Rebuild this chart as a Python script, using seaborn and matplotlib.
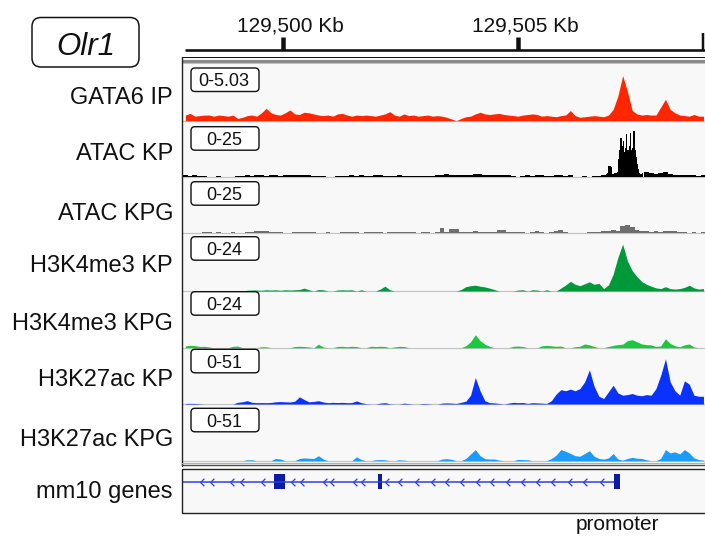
import numpy as np
import pandas as pd
import matplotlib
matplotlib.use("Agg")
import matplotlib.pyplot as plt
import seaborn as sns
from matplotlib.patches import FancyBboxPatch, Rectangle
from matplotlib.path import Path

sns.set_theme(style="white")
plt.rcParams['font.family'] = ['Liberation Sans', 'DejaVu Sans']

# ---------------- data ----------------
VIEW_START, VIEW_END = 129497.854, 129508.967   # kb
BIN_START, BIN_KB = 129497.875, 0.101
PEAK_START, PEAK_KB = 129506.84, 0.0252

track_names = ["GATA6 IP", "ATAC KP", "ATAC KPG", "H3K4me3 KP",
               "H3K4me3 KPG", "H3K27ac KP", "H3K27ac KPG"]
track_ranges = [5.03, 25, 25, 24, 24, 51, 51]
track_range_labels = ["0-5.03", "0-25", "0-25", "0-24", "0-24", "0-51", "0-51"]
track_colors = ["#ff2600", "#000000", "#6e6e6e", "#00993a",
                "#1ec83c", "#0a32ff", "#1a9cff"]
track_styles = ["poly", "bars", "bars", "poly", "poly", "poly", "poly"]

gata6_ip = [0.5, 0.65, 0.4, 0.45, 0.5, 0.5, 0.4, 0.5, 0.45, 0.4,
            0.5, 0.2, 0.3, 0.45, 0.5, 0.4, 0.7, 1.1, 0.7, 0.55,
            0.5, 0.7, 0.95, 0.6, 0.55, 0.75, 0.7, 0.6, 0.5, 0.45,
            0.5, 0.4, 0.6, 0.65, 0.5, 0.4, 0.5, 0.45, 0.5, 0.45,
            0.4, 0.5, 0.6, 0.8, 0.5, 0.4, 0.6, 0.45, 0.5, 0.4,
            0.45, 0.5, 0.4, 0.45, 0.4, 0.3, 0.15, 0.0, 0.2, 0.35,
            0.4, 0.6, 0.75, 0.6, 0.55, 0.6, 0.65, 0.55, 0.5, 0.45,
            0.4, 0.5, 0.55, 0.6, 0.55, 0.4, 0.45, 0.4, 0.35, 0.45,
            0.5, 0.9, 0.45, 0.3, 0.35, 0.4, 0.45, 0.4, 0.35, 0.5,
            1.0, 2.2, 4.0, 2.6, 0.9, 0.6, 0.5, 0.55, 0.5, 0.5,
            1.2, 1.9, 1.0, 0.7, 0.5, 0.45, 0.4, 0.55, 0.4, 0.4]

atac_kp = [0.8, 0.6, 0.8, 0.7, 0.6, 0.3, 0.0, 0.4, 0.0, 0.3,
           0.0, 0.5, 0.7, 0.8, 0.6, 0.8, 0.9, 0.7, 0.8, 0.9,
           0.7, 0.8, 0.9, 1.0, 0.8, 0.9, 0.8, 0.7, 0.6, 0.5,
           0.0, 0.3, 0.5, 0.4, 0.6, 0.8, 0.5, 1.0, 0.7, 0.6,
           0.8, 0.9, 0.7, 0.6, 0.7, 0.9, 0.6, 0.5, 0.7, 0.6,
           0.6, 0.5, 0.6, 0.8, 0.9, 1.5, 1.2, 1.0, 1.1, 0.8,
           1.2, 1.4, 1.3, 1.1, 0.9, 1.2, 1.0, 1.1, 0.9, 0.5,
           0.0, 0.6, 0.8, 0.7, 0.9, 0.8, 0.7, 0.6, 1.0, 0.8,
           0.5, 0.8, 0.0, 0.0, 0.4, 0.0, 0.5, 0.6, 0.8, 1.2,
           3.5, 2.0, 12, 18, 17, 14, 4.0, 2.5, 1.8, 1.5,
           2.0, 2.4, 1.5, 1.2, 1.0, 0.9, 1.0, 0.8, 0.7, 0.8]

atac_kp_peak = [1.2, 1.5, 2.0, 5.0, 5.0, 4.5, 1.5, 1.5, 2.0, 1.8,
                2.5, 8, 12, 17.5, 14, 16, 11, 13, 19, 12,
                14, 19.5, 12, 13, 20.5, 12, 9, 6, 3.5, 2.0, 1.5, 1.8]

atac_kpg = [0.3, 0.0, 0.3, 0.0, 0.4, 0.5, 0.0, 0.4, 0.0, 0.3,
            0.5, 0.0, 0.3, 0.5, 0.6, 1.0, 1.0, 0.9, 0.5, 0.8,
            0.4, 0.0, 0.3, 0.5, 0.8, 0.7, 0.6, 0.5, 0.3, 0.0,
            0.4, 0.3, 0.0, 0.5, 0.4, 0.6, 0.5, 0.0, 0.6, 0.8,
            0.6, 0.5, 0.0, 0.5, 0.6, 0.5, 0.4, 0.5, 0.4, 0.3,
            0.4, 0.5, 0.0, 0.6, 2.2, 0.8, 1.8, 2.0, 0.5, 0.6,
            0.8, 0.9, 0.7, 0.6, 0.8, 0.5, 1.5, 1.4, 0.6, 0.4,
            0.5, 0.8, 0.0, 0.6, 1.2, 0.5, 0.0, 0.6, 0.9, 1.5,
            0.6, 0.0, 0.0, 0.3, 0.0, 0.4, 0.6, 0.5, 0.9, 1.2,
            1.5, 1.2, 3.2, 3.7, 2.8, 1.5, 1.0, 1.2, 0.8, 1.0,
            0.6, 0.9, 1.2, 1.0, 0.8, 0.5, 0.0, 0.4, 0.0, 0.5]

h3k4me3_kp = [0, 0, 0, 0, 0, 0, 0, 0, 0, 0,
              0, 0, 0, 0.3, 0.4, 0.4, 0.3, 0.5, 0.4, 0.5,
              0.3, 0.5, 0.4, 0.5, 0.6, 1.2, 0.5, 0.0, 0.6, 0.5,
              0.0, 0.0, 0.4, 0.5, 0.4, 0.5, 0.0, 0.5, 0.0, 0.0,
              0.0, 0.8, 2.0, 0.5, 0, 0, 0, 0, 0, 0,
              0, 0, 0, 0, 0, 0, 0, 0, 0.6, 1.8,
              2.2, 2.4, 2.0, 1.7, 1.2, 0.6, 0, 0, 0, 0,
              0.4, 0.5, 0.0, 0.5, 0.4, 0.0, 0.5, 0.0, 0.0, 1.2,
              2.5, 4.0, 2.8, 2.2, 3.0, 3.8, 2.8, 3.2, 1.0, 2.5,
              7, 14, 19.5, 12.5, 8.5, 6, 4, 2.8, 2.0, 1.3,
              1.0, 1.8, 1.0, 0.8, 1.0, 1.5, 2.4, 1.3, 0.8, 1.0]

h3k4me3_kpg = [0.8, 1.0, 0.9, 0.5, 0.6, 0.3, 0, 0, 0, 0,
               0.6, 0.7, 0, 0, 0, 0, 0.4, 0.4, 0, 0,
               0, 0, 0, 0.5, 0.6, 0.5, 0.3, 0, 1.5, 0.3,
               0, 0, 0.5, 0.6, 0.4, 0.6, 0.5, 0, 0, 0.6,
               0.5, 0.6, 0.5, 0, 0.3, 0.6, 0.5, 0, 0, 0,
               0, 0, 0, 0, 0, 0, 0, 0, 0, 0.8,
               2.5, 5.5, 3.0, 1.5, 0.6, 0, 0, 0, 0, 0.6,
               0.7, 0.5, 0, 0, 0, 0.8, 1.0, 0.8, 0.6, 0.7,
               0, 0, 0.4, 0.6, 1.6, 1.2, 0.5, 0, 0, 0.5,
               1.0, 1.3, 1.5, 3.0, 3.4, 2.5, 1.6, 1.3, 1.2, 0.5,
               0.8, 3.8, 1.8, 0.8, 0.4, 1.2, 1.6, 0.3, 0, 0]

h3k27ac_kp = [0.5, 0.6, 0.5, 0.3, 0, 0, 0, 0, 0, 0,
              0, 1.5, 2.0, 3.0, 1.5, 1.2, 1.3, 1.2, 1.4, 2.0,
              2.2, 2.0, 1.8, 2.5, 6.5, 4.0, 2.0, 2.3, 3.0, 1.8,
              1.2, 1.5, 1.3, 1.5, 1.2, 1.3, 2.8, 1.2, 0.3, 0,
              0, 0.8, 1.2, 0.3, 0, 0, 0.8, 0.3, 0, 0,
              0.5, 0.3, 0, 0, 0.8, 1.0, 0.8, 0.5, 1.5, 2.5,
              8, 24, 12, 3.0, 1.2, 1.0, 0.5, 0, 0.8, 1.5,
              1.2, 1.4, 0.5, 1.2, 1.0, 0.8, 0.5, 3, 9, 13,
              12, 13.5, 12, 14, 20, 31, 16, 7, 5, 11,
              17, 10, 8, 8.5, 9.5, 8, 7.5, 8.5, 8, 14,
              26, 41, 20, 12, 8, 21, 18, 8, 7, 7]

h3k27ac_kpg = [0, 0, 0, 0, 0, 0, 0, 0, 0, 0,
               0, 0, 0, 0.8, 0.8, 0, 0, 0, 0, 2.0,
               1.5, 0, 0, 0, 2.0, 2.5, 2.2, 2.0, 4.5, 1.5,
               0, 0, 0, 0, 0, 0, 3.5, 1.0, 0, 0,
               0.8, 1.0, 0.8, 0, 0, 0.8, 0.5, 0, 0, 0,
               0, 0, 0, 0, 1.5, 1.8, 1.2, 0, 0, 2.0,
               6, 10, 4.5, 1.8, 1.5, 1.5, 0.5, 0, 0, 0,
               1.2, 1.0, 0.8, 0, 0, 0, 0, 2, 5, 10,
               8.5, 6.5, 4.5, 4.0, 6.5, 9, 4, 2.0, 1.5, 2.5,
               6.5, 1.5, 0.5, 2.0, 3.0, 2.2, 2.0, 0.8, 0, 0,
               2, 10, 7, 8, 6, 10, 7, 2.5, 1.0, 0.5]

track_values = [gata6_ip, atac_kp, atac_kpg, h3k4me3_kp,
                h3k4me3_kpg, h3k27ac_kp, h3k27ac_kpg]

ruler_ticks_kb = [129500, 129505]

# gene model (Olr1, minus strand), kb
gene_line_start = VIEW_START
exon_starts = [129499.803, 129502.012, 129507.03]
exon_ends = [129500.036, 129502.110, 129507.17]
chevron_kb = [129498.273, 129498.485, 129498.910, 129499.123, 129499.569,
              129500.219, 129500.398, 129500.893, 129501.035, 129501.530,
              129501.707, 129502.204, 129502.487, 129502.841, 129503.194,
              129503.479, 129503.797, 129504.150, 129504.435, 129504.788,
              129505.106, 129505.425, 129505.744, 129506.099, 129506.418,
              129506.773]

# ---------------- layout (pixels) ----------------
W, H = 705, 536
fig = plt.figure(figsize=(W / 100, H / 100), dpi=100)
fig.patch.set_facecolor("white")


def px_axes(x0, y0, x1, y1, z=1):
    ax = fig.add_axes([x0 / W, 1 - y1 / H, (x1 - x0) / W, (y1 - y0) / H])
    ax.set_zorder(z)
    return ax


PX = 0.72  # points per pixel
PANEL_L, PANEL_R = 182, 705
track_tops = [64, 120.7, 177.3, 233.3, 291, 347.7, 404]
track_bots = [120.7, 177.3, 233.3, 291, 347.7, 404, 460.7]
box_tops = [68, 126.7, 181.7, 236.7, 291.7, 349.3, 408.3]
label_baselines = [104.5, 160.5, 219.5, 272.5, 330.5, 386.5, 445.5]

# background overlay
bg = px_axes(0, 0, W, H, z=0)
bg.set_xlim(0, W); bg.set_ylim(H, 0); bg.set_axis_off()
bg.add_patch(Rectangle((PANEL_L, 57), PANEL_R - PANEL_L, 409, fc="#f8f8f8", ec="none"))
bg.add_patch(Rectangle((PANEL_L, 469), PANEL_R - PANEL_L, 44, fc="#f8f8f8", ec="none"))

edges = BIN_START + BIN_KB * np.arange(len(gata6_ip) + 1)
centers = (edges[:-1] + edges[1:]) / 2
peak_edges = PEAK_START + PEAK_KB * np.arange(len(atac_kp_peak) + 1)
peak_centers = (peak_edges[:-1] + peak_edges[1:]) / 2
edge_list = [float(e) for e in edges]
peak_edge_list = [float(e) for e in peak_edges]

for i, vals in enumerate(track_values):
    ax = px_axes(PANEL_L, track_tops[i], PANEL_R, track_bots[i], z=1)
    ax.set_facecolor("none")
    df = pd.DataFrame({"pos": centers, "signal": np.asarray(vals, dtype=float)})
    if i == 1:
        keep = (df["pos"] < peak_edges[0]) | (df["pos"] > peak_edges[-1])
        sns.histplot(data=df[keep], x="pos", weights="signal", bins=edge_list,
                     element="bars", fill=True, color=track_colors[i], alpha=1,
                     linewidth=0, ax=ax)
        dfp = pd.DataFrame({"pos": peak_centers, "signal": atac_kp_peak})
        sns.histplot(data=dfp, x="pos", weights="signal", bins=peak_edge_list,
                     element="bars", fill=True, color=track_colors[i], alpha=1,
                     linewidth=0, ax=ax)
    else:
        sns.histplot(data=df, x="pos", weights="signal", bins=edge_list,
                     element=track_styles[i], fill=True, color=track_colors[i],
                     alpha=1, linewidth=0, ax=ax)
    ax.set_xlim(VIEW_START, VIEW_END)
    ax.set_ylim(0, track_ranges[i])
    ax.axhline(0, color="#c4c4c4", lw=1.2 * PX, clip_on=False, zorder=0.5)
    ax.set_axis_off()

# foreground overlay: frames, boxes, labels
fg = px_axes(0, 0, W, H, z=5)
fg.set_xlim(0, W); fg.set_ylim(H, 0); fg.set_axis_off()

fg.plot([PANEL_L, PANEL_R], [57.3, 57.3], color="#111111", lw=1.0 * PX)
fg.add_patch(Rectangle((PANEL_L, 60), PANEL_R - PANEL_L, 3, fc="#8a8a8a", ec="none"))
fg.add_patch(Rectangle((PANEL_L, 63), PANEL_R - PANEL_L, 1.3, fc="#c0c0c0", ec="none"))
fg.plot([PANEL_L, PANEL_L], [57, 466], color="#222222", lw=1.4 * PX)
fg.plot([PANEL_L, PANEL_R], [462.6, 462.6], color="#b0b0b0", lw=1.0 * PX)
fg.plot([PANEL_L, PANEL_R], [465.3, 465.3], color="#4a4a4a", lw=1.4 * PX)
fg.add_patch(Rectangle((PANEL_L, 469), PANEL_R - PANEL_L + 5, 44, fc="none",
                       ec="#222222", lw=1.4 * PX))

for i in range(len(track_names)):
    fg.add_patch(FancyBboxPatch((191, box_tops[i]), 68, 23.5,
                                boxstyle="round,pad=0,rounding_size=4",
                                fc="white", ec="#111111", lw=1.4 * PX))
    fg.text(224, box_tops[i] + 18.5, track_range_labels[i], fontsize=13,
            ha="center", va="baseline", color="#111111")
    fg.text(173, label_baselines[i], track_names[i], fontsize=17,
            ha="right", va="baseline", color="#111111")
fg.text(173, 498, "mm10 genes", fontsize=17, ha="right", va="baseline",
        color="#111111")

# Olr1 title box
fg.add_patch(FancyBboxPatch((32, 17.5), 107, 49.5,
                            boxstyle="round,pad=0,rounding_size=9",
                            fc="white", ec="#111111", lw=1.5 * PX))
fg.text(85.5, 55, "Olr1", fontsize=22.5, style="italic", ha="center",
        va="baseline", color="#111111")

# ruler
ar = px_axes(PANEL_L, 28, PANEL_R, 53, z=5)
ar.set_xlim(VIEW_START, VIEW_END); ar.set_ylim(53, 28); ar.set_axis_off()
ar.plot([VIEW_START + 0.06, VIEW_END], [50, 50], color="#111111", lw=2.6 * PX,
        solid_capstyle="butt")
ar.vlines(ruler_ticks_kb, 37, 50, color="#111111", lw=4.5 * PX)
ar.vlines([VIEW_END - 0.04], 33, 50, color="#111111", lw=2.5 * PX)
for t in ruler_ticks_kb:
    ar.text(t + 0.15, 32, f"{t:,} Kb", fontsize=15, ha="center", va="baseline",
            color="#111111", clip_on=False)

# gene track
ag = px_axes(PANEL_L, 469, PANEL_R, 513, z=4)
ag.set_xlim(VIEW_START, VIEW_END); ag.set_ylim(513, 469); ag.set_axis_off()
ag.plot([gene_line_start, exon_starts[-1]], [482, 482], color="#2b3ddc",
        lw=1.5 * PX, solid_capstyle="butt")
for s, e in zip(exon_starts, exon_ends):
    ag.add_patch(Rectangle((s, 474.5), e - s, 14.5, fc="#0a1ba8", ec="none"))
chev = Path([(0.5, 1.0), (-0.5, 0.0), (0.5, -1.0)],
            [Path.MOVETO, Path.LINETO, Path.LINETO])
ag.plot(chevron_kb, [482] * len(chevron_kb), ls="none", marker=chev, ms=5.5,
        mfc="none", mec="#3344e6", mew=1.3 * PX)
ag.text((exon_starts[-1] + exon_ends[-1]) / 2, 530.5, "promoter", fontsize=15,
        ha="center", va="baseline", color="#111111", clip_on=False)

fig.savefig("out.png", dpi=100, facecolor="white")
